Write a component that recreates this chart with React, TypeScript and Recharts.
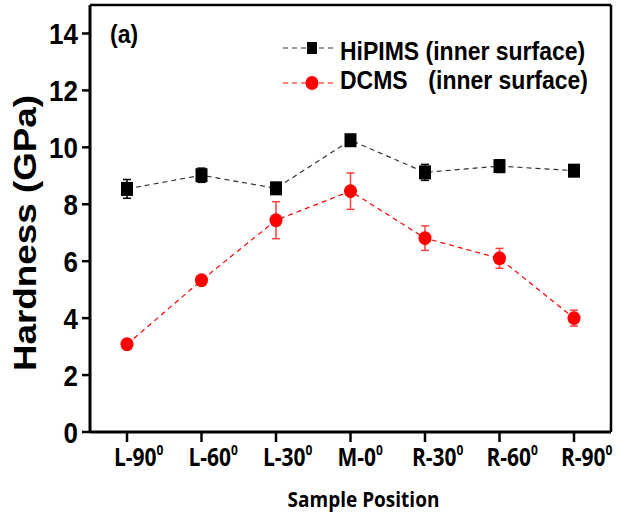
import React from "react";
import { LineChart, Line, XAxis, YAxis, ErrorBar, Legend, Label } from "recharts";

// sample positions along the tube (superscript 0 = degree)
const positions = ["L-90", "L-60", "L-30", "M-0", "R-30", "R-60", "R-90"];
const hipimsHardness = [8.54, 9.02, 8.56, 10.25, 9.12, 9.34, 9.18];
const hipimsError = [0.33, 0.25, 0.1, 0.1, 0.28, 0.22, 0.08];
const dcmsHardness = [3.08, 5.33, 7.44, 8.46, 6.81, 6.1, 4.0];
const dcmsError = [0.1, 0.15, 0.65, 0.64, 0.43, 0.35, 0.28];
const yTicks = [0, 2, 4, 6, 8, 10, 12, 14];
const minorTicks = [1, 2, 3, 4, 5, 6];
const topTicks = [0.5, 1, 1.5, 2, 2.5, 3, 3.5, 4, 4.5, 5, 5.5, 6, 6.5];

const data = positions.map((pos, i) => ({
  pos,
  hipims: hipimsHardness[i],
  hipimsErr: hipimsError[i],
  dcms: dcmsHardness[i],
  dcmsErr: dcmsError[i],
}));

const SY = 1.15;
const THIN = 0.001; // axes need a size > 0 to be drawn
const ARIAL = "'Liberation Sans', Arial, sans-serif";
const OPEN = "'Open Sans', 'Noto Sans', sans-serif";

function YTick(props: any) {
  const { x, y, payload } = props;
  return (
    <text
      transform={`translate(${x},${y}) scale(1,${SY})`}
      x={0}
      y={0}
      dy="0.36em"
      textAnchor="end"
      fontFamily={ARIAL}
      fontWeight="bold"
      fontSize={26}
      fill="#000"
    >
      {payload.value}
    </text>
  );
}

function XTick(props: any) {
  const { x, y, payload } = props;
  return (
    <text
      transform={`translate(${x - 13},${y}) scale(1,${SY})`}
      x={0}
      y={19.5}
      textAnchor="start"
      fontFamily={OPEN}
      fontWeight="bold"
      fontSize={21}
      fill="#000"
    >
      {payload.value}
      <tspan dy={-10} fontSize={12}>
        0
      </tspan>
    </text>
  );
}

function Square(props: any) {
  const { cx, cy, index } = props;
  if (cx == null || cy == null) return <g key={index} />;
  return <rect key={index} x={cx - 6} y={cy - 7} width={12} height={14} fill="#000" />;
}

function Dot(props: any) {
  const { cx, cy, index } = props;
  if (cx == null || cy == null) return <g key={index} />;
  return <ellipse key={index} cx={cx} cy={cy} rx={6.5} ry={7} fill="#ff0000" />;
}

function LegendBox() {
  const txt = {
    fontFamily: ARIAL,
    fontWeight: "bold" as const,
    fontSize: 23,
    fill: "#000",
  };
  return (
    <svg width={330} height={75} style={{ display: "block" }}>
      <line x1={3} y1={20} x2={53} y2={20} stroke="#333" strokeDasharray="5 4" strokeWidth={1.2} />
      <rect x={27} y={14} width={10} height={12} fill="#000" />
      <text transform={`translate(60,32) scale(1,${SY})`} {...txt}>
        HiPIMS (inner surface)
      </text>
      <line x1={3} y1={55} x2={53} y2={55} stroke="#ff0000" strokeDasharray="5 4" strokeWidth={1.2} />
      <ellipse cx={32} cy={55} rx={6.5} ry={7} fill="#ff0000" />
      <text transform={`translate(60,61) scale(1,${SY})`} {...txt}>
        DCMS
      </text>
      <text transform={`translate(308,61) scale(1,${SY})`} textAnchor="end" {...txt}>
        (inner surface)
      </text>
    </svg>
  );
}

export default function App() {
  return (
    <div style={{ position: "absolute", left: 0, top: 0, background: "#fff" }}>
      <LineChart
        width={617}
        height={517}
        data={data}
        margin={{ top: 5, right: 6, left: 0, bottom: 85 }}
      >
        <XAxis
          xAxisId="minor"
          type="number"
          domain={[0, 7]}
          ticks={minorTicks}
          allowDataOverflow
          tick={false}
          tickSize={4}
          tickLine={{ stroke: "#000", strokeWidth: 2 }}
          axisLine={false}
          height={THIN}
        />
        <XAxis
          xAxisId="main"
          dataKey="pos"
          type="category"
          scale="point"
          padding={{ left: 37, right: 37 }}
          interval={0}
          tick={<XTick />}
          tickSize={10}
          tickLine={{ stroke: "#000", strokeWidth: 2.5 }}
          axisLine={{ stroke: "#000", strokeWidth: 3 }}
          height={THIN}
        >
          <Label
            content={(p: any) => {
              const vb = p.viewBox || {};
              return (
                <text
                  transform={`translate(${vb.x + vb.width / 2 + 13},${vb.y + 75}) scale(1,${SY})`}
                  textAnchor="middle"
                  fontFamily={OPEN}
                  fontWeight="bold"
                  fontSize={19}
                  fill="#000"
                >
                  Sample Position
                </text>
              );
            }}
          />
        </XAxis>
        <XAxis
          xAxisId="top"
          orientation="top"
          type="number"
          domain={[0, 7]}
          ticks={topTicks}
          allowDataOverflow
          tick={false}
          tickSize={5}
          tickLine={{ stroke: "#000", strokeWidth: 1.5 }}
          axisLine={{ stroke: "#000", strokeWidth: 2.5 }}
          height={THIN}
        />
        <YAxis
          yAxisId="main"
          type="number"
          domain={[0, 15]}
          ticks={yTicks}
          interval={0}
          width={90}
          tickSize={8}
          tickMargin={4}
          tick={<YTick />}
          tickLine={{ stroke: "#000", strokeWidth: 2.5 }}
          axisLine={{ stroke: "#000", strokeWidth: 3 }}
        >
          <Label
            content={() => (
              <text
                transform={`translate(36,233) scale(1,${SY}) rotate(-90)`}
                textAnchor="middle"
                fontFamily={ARIAL}
                fontWeight="bold"
                fontSize={32}
                fill="#000"
              >
                Hardness (GPa)
              </text>
            )}
          />
        </YAxis>
        <YAxis
          yAxisId="right"
          orientation="right"
          type="number"
          domain={[0, 15]}
          allowDataOverflow
          width={THIN}
          tick={false}
          tickLine={false}
          axisLine={{ stroke: "#000", strokeWidth: 2.5 }}
        />
        <Legend
          layout="vertical"
          align="center"
          verticalAlign="middle"
          content={() => <LegendBox />}
          wrapperStyle={{ left: 280, top: 28, width: 330, height: 75 }}
        />
        <Line
          xAxisId="main"
          yAxisId="main"
          dataKey="hipims"
          stroke="#333"
          strokeWidth={1.2}
          strokeDasharray="5 4"
          dot={Square}
          activeDot={false}
          isAnimationActive={false}
        >
          <ErrorBar dataKey="hipimsErr" direction="y" width={4} stroke="#000" strokeWidth={1.5} />
        </Line>
        <Line
          xAxisId="main"
          yAxisId="main"
          dataKey="dcms"
          stroke="#ff0000"
          strokeWidth={1.2}
          strokeDasharray="5 4"
          dot={Dot}
          activeDot={false}
          isAnimationActive={false}
        >
          <ErrorBar dataKey="dcmsErr" direction="y" width={4} stroke="#ff4040" strokeWidth={1.5} />
        </Line>
        <text
          transform={`translate(110,43) scale(1,${SY})`}
          fontFamily={ARIAL}
          fontWeight="bold"
          fontSize={23}
          fill="#000"
        >
          (a)
        </text>
      </LineChart>
    </div>
  );
}
